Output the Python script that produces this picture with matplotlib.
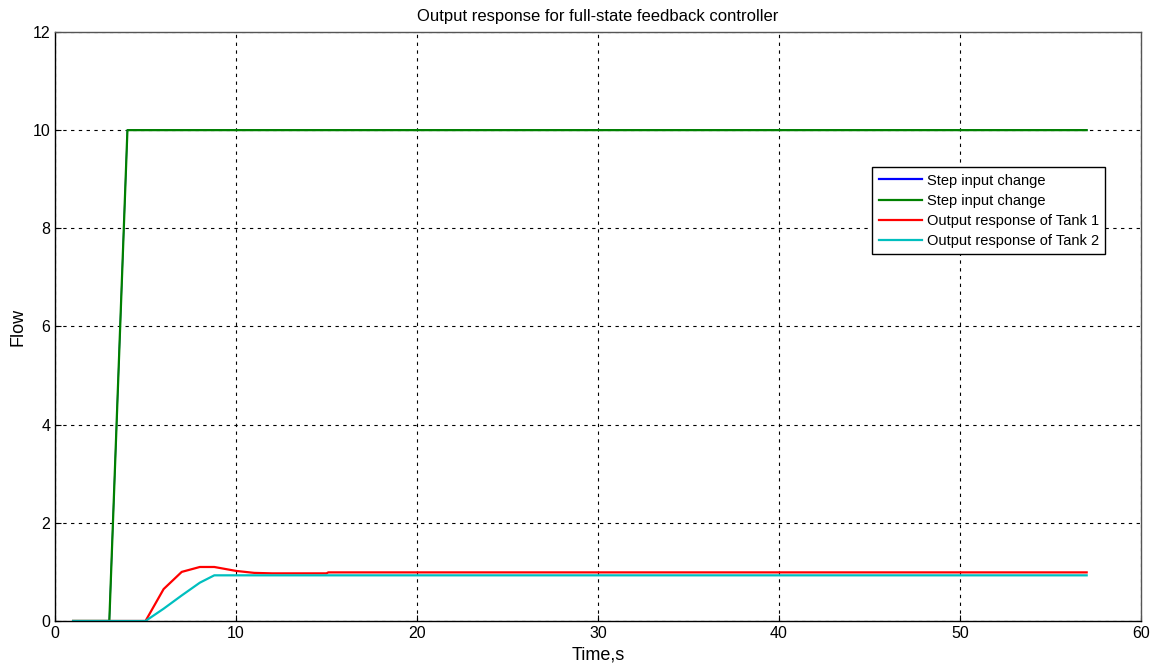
import matplotlib.pyplot as plt

plt.rcParams['font.family'] = ['Liberation Sans', 'DejaVu Sans']

# Time samples (s)
t_step = [1, 2, 3, 3.6, 4, 10, 20, 30, 40, 50, 57]
step_in = [0, 0, 0, 6, 10, 10, 10, 10, 10, 10, 10]

t_resp = [1, 2, 3, 4, 5, 6, 7, 8, 8.8, 10, 11, 12, 13, 14, 15, 15.1, 20, 30, 40, 50, 57]
tank1 = [0, 0, 0, 0, 0, 0.65, 1.0, 1.1, 1.1, 1.02, 0.98, 0.97, 0.97, 0.97, 0.97, 0.99,
         0.99, 0.99, 0.99, 0.99, 0.99]
tank2 = [0, 0, 0, 0, 0, 0.25, 0.52, 0.78, 0.93, 0.93, 0.93, 0.93, 0.93, 0.93, 0.93, 0.93,
         0.93, 0.93, 0.93, 0.93, 0.93]

fig = plt.figure(figsize=(11.56, 6.66), dpi=100)
ax = fig.add_axes([0.0476, 0.0676, 0.9394, 0.8844])

# blue input sits right under the green one
ax.plot(t_step, step_in, color='blue', lw=1.0, label='Step input change')
ax.plot(t_step, step_in, color='green', lw=1.6, label='Step input change')
ax.plot(t_resp, tank1, color='red', lw=1.6, label='Output response of Tank 1')
ax.plot(t_resp, tank2, color='#00bfbf', lw=1.6, label='Output response of Tank 2')

ax.set_xlim(0, 60)
ax.set_ylim(0, 12)
ax.set_xticks(range(0, 61, 10))
ax.set_yticks(range(0, 13, 2))
ax.tick_params(direction='in', length=4, labelsize=11.5)
ax.grid(True, color='black', linestyle=(0, (3, 4)), linewidth=0.8)
for s in ax.spines.values():
    s.set_color('#555555')
    s.set_linewidth(1.0)
ax.spines['bottom'].set_color('black')
ax.spines['left'].set_color('black')

ax.set_title('Output response for full-state feedback controller', fontsize=12, pad=8)
ax.set_xlabel('Time,s', fontsize=13, labelpad=4)
ax.set_ylabel('Flow', fontsize=13, labelpad=4)

leg = ax.legend(loc='upper left', bbox_to_anchor=(0.7523, 0.7708), borderaxespad=0,
                fontsize=10.5, fancybox=False, edgecolor='black', framealpha=1,
                borderpad=0.45, handlelength=3.0, handletextpad=0.3, labelspacing=0.42)
leg.get_frame().set_linewidth(1.0)
for h in leg.get_lines():
    h.set_linewidth(1.6)

fig.savefig('out.png', dpi=100)
